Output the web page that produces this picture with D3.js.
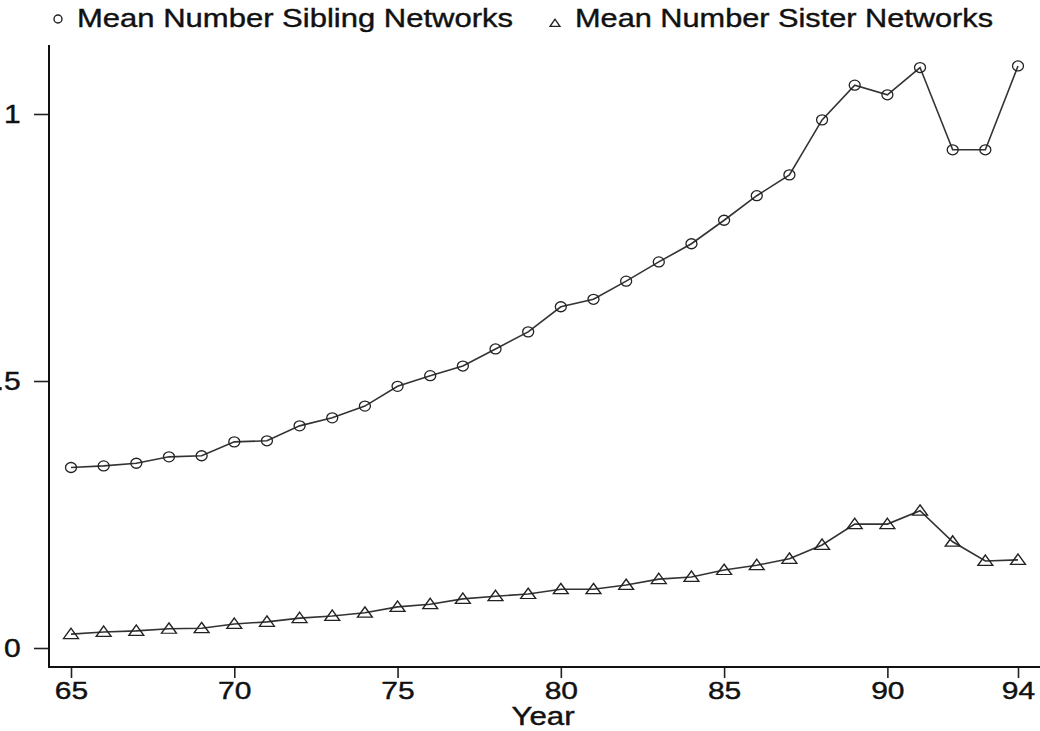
<!DOCTYPE html>
<html>
<head>
<meta charset="utf-8">
<script src="https://cdn.jsdelivr.net/npm/d3@7"></script>
<style>
  body { margin: 0; background: #fff; }
  text { font-family: "Liberation Sans", Arial, sans-serif; fill: #111; stroke: #111; stroke-width: 0.4px; }
</style>
</head>
<body>
<div id="here"></div>
<script>
// Mean number of sibling / sister networks by year

const years = d3.range(65, 95);

const siblingMeans = [0.338, 0.341, 0.346, 0.358, 0.360, 0.386, 0.388, 0.416, 0.431, 0.453,
                      0.490, 0.510, 0.528, 0.560, 0.592, 0.639, 0.653, 0.687, 0.723, 0.757,
                      0.801, 0.847, 0.886, 0.989, 1.054, 1.036, 1.087, 0.933, 0.933, 1.090];

const sisterMeans = [0.026, 0.030, 0.032, 0.036, 0.037, 0.045, 0.049, 0.056, 0.060, 0.066,
                     0.077, 0.082, 0.092, 0.097, 0.101, 0.110, 0.110, 0.118, 0.129, 0.133,
                     0.146, 0.155, 0.167, 0.193, 0.232, 0.232, 0.257, 0.199, 0.163, 0.165];

const xTicks = [65, 70, 75, 80, 85, 90, 94];
const yTicks = [0, 0.5, 1];
const yTickLabels = ["0", ".5", "1"];

const legendLabels = ["Mean Number Sibling Networks", "Mean Number Sister Networks"];
const xTitle = "Year";

const width = 1040;
const height = 731;
const stretch = 1.2; // text in the original is drawn a bit wide

const svg = d3.select("#here")
    .append("svg")
    .attr("width", width)
    .attr("height", height);

// scales
const xScale = d3.scaleLinear()
    .domain([65, 94])
    .range([71, 1018]);

const yScale = d3.scaleLinear()
    .domain([0, 1])
    .range([648, 114]);

const sibling = years.map((y, i) => ({ year: y, value: siblingMeans[i] }));
const sister = years.map((y, i) => ({ year: y, value: sisterMeans[i] }));

// axes
const xAxis = svg.append("g")
    .attr("transform", "translate(0, 667)")
    .call(d3.axisBottom(xScale)
        .tickValues(xTicks)
        .tickFormat(d3.format("d"))
        .tickSize(11)
        .tickPadding(4));

xAxis.select(".domain").remove();
xAxis.selectAll(".tick line").attr("stroke", "#222").attr("stroke-width", 1.6);
xAxis.selectAll(".tick text")
    .attr("font-size", 24)
    .attr("font-family", "Liberation Sans, Arial, sans-serif")
    .attr("fill", "#111")
    .attr("transform", `scale(${stretch + 0.05},1)`);

const yAxis = svg.append("g")
    .attr("transform", "translate(49, 0)")
    .call(d3.axisLeft(yScale)
        .tickValues(yTicks)
        .tickFormat((d, i) => yTickLabels[i])
        .tickSize(15));

yAxis.select(".domain").remove();
yAxis.selectAll(".tick line").attr("stroke", "#222").attr("stroke-width", 1.6);
yAxis.selectAll(".tick text")
    .attr("font-size", 25)
    .attr("font-family", "Liberation Sans, Arial, sans-serif")
    .attr("fill", "#111")
    .attr("x", -23.5)
    .attr("transform", `scale(${stretch},1)`);

// axis lines
svg.append("line")
    .attr("x1", 49).attr("x2", 49)
    .attr("y1", 45).attr("y2", 668)
    .attr("stroke", "#111").attr("stroke-width", 2);

svg.append("line")
    .attr("x1", 48).attr("x2", width)
    .attr("y1", 667).attr("y2", 667)
    .attr("stroke", "#111").attr("stroke-width", 2);

// lines
const line = d3.line()
    .x(d => xScale(d.year))
    .y(d => yScale(d.value));

svg.append("path")
    .datum(sibling)
    .attr("fill", "none")
    .attr("stroke", "#333")
    .attr("stroke-width", 1.6)
    .attr("d", line);

svg.append("path")
    .datum(sister)
    .attr("fill", "none")
    .attr("stroke", "#333")
    .attr("stroke-width", 1.6)
    .attr("d", line);

// markers
svg.selectAll(".sib")
    .data(sibling)
    .enter()
    .append("ellipse")
    .attr("class", "sib")
    .attr("cx", d => xScale(d.year))
    .attr("cy", d => yScale(d.value))
    .attr("rx", 5.5)
    .attr("ry", 5)
    .attr("fill", "none")
    .attr("stroke", "#222")
    .attr("stroke-width", 1.3);

const tri = d3.symbol().type(d3.symbolTriangle).size(62);

svg.selectAll(".sis")
    .data(sister)
    .enter()
    .append("path")
    .attr("class", "sis")
    .attr("d", tri)
    .attr("transform", d => `translate(${xScale(d.year)},${yScale(d.value) + 1}) scale(1.25,1)`)
    .attr("fill", "none")
    .attr("stroke", "#222")
    .attr("stroke-width", 1.2);

// x title
svg.append("text")
    .attr("transform", `translate(543, 725) scale(1.25,1)`)
    .attr("text-anchor", "middle")
    .attr("font-size", 25)
    .text(xTitle);

// legend
svg.append("circle")
    .attr("cx", 58)
    .attr("cy", 19)
    .attr("r", 4)
    .attr("fill", "none")
    .attr("stroke", "#222")
    .attr("stroke-width", 1.4);

svg.append("path")
    .attr("d", d3.symbol().type(d3.symbolTriangle).size(30))
    .attr("transform", "translate(555, 24) scale(1.2,1)")
    .attr("fill", "none")
    .attr("stroke", "#222")
    .attr("stroke-width", 1.2);

const legendPos = [[77, 436], [575, 418]];

svg.selectAll(".legend-text")
    .data(legendLabels)
    .enter()
    .append("text")
    .attr("class", "legend-text")
    .attr("x", (d, i) => legendPos[i][0])
    .attr("y", 27)
    .attr("font-size", 26)
    .attr("textLength", (d, i) => legendPos[i][1])
    .attr("lengthAdjust", "spacingAndGlyphs")
    .text(d => d);
</script>
</body>
</html>
